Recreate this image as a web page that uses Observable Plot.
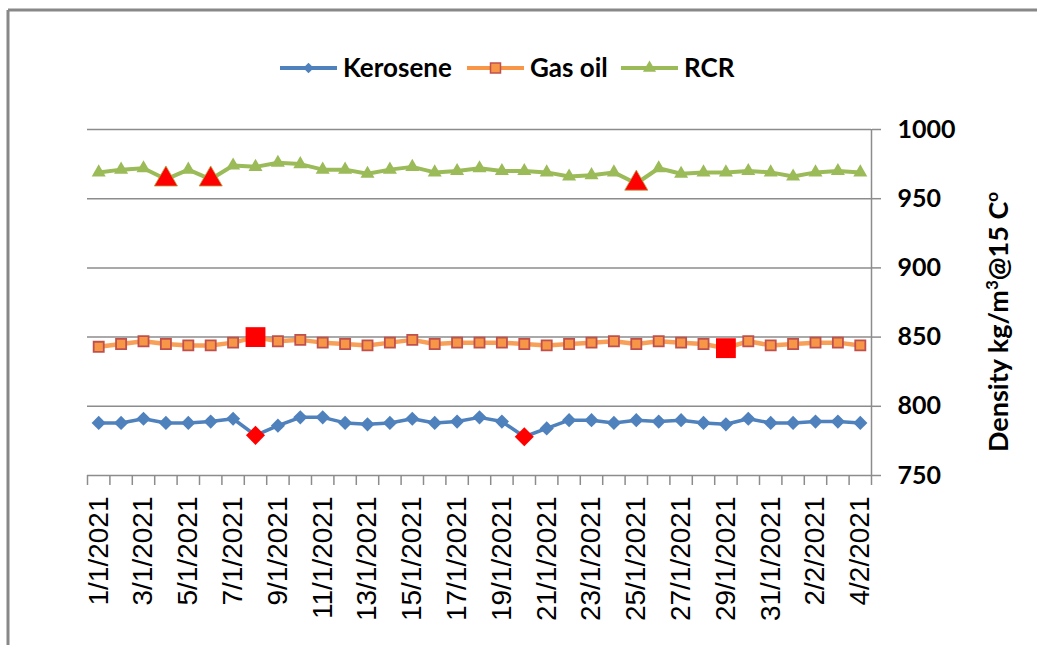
<!DOCTYPE html>
<html>
<head>
<meta charset="utf-8">
<script src="https://cdn.jsdelivr.net/npm/d3@7"></script>
<script src="https://cdn.jsdelivr.net/npm/@observablehq/plot@0.6"></script>
<style>
  html, body { margin: 0; padding: 0; background: #fff; }
  #chart { width: 1037px; height: 645px; overflow: hidden; }
</style>
</head>
<body>
<div id="chart"></div>
<script>
// ---- Data ----
const categories = [
  "1/1/2021","2/1/2021","3/1/2021","4/1/2021","5/1/2021","6/1/2021","7/1/2021","8/1/2021",
  "9/1/2021","10/1/2021","11/1/2021","12/1/2021","13/1/2021","14/1/2021","15/1/2021","16/1/2021",
  "17/1/2021","18/1/2021","19/1/2021","20/1/2021","21/1/2021","22/1/2021","23/1/2021","24/1/2021",
  "25/1/2021","26/1/2021","27/1/2021","28/1/2021","29/1/2021","30/1/2021","31/1/2021","1/2/2021",
  "2/2/2021","3/2/2021","4/2/2021"
];
const kerosene = [788,788,791,788,788,789,791,779,786,792,792,788,787,788,791,788,789,792,789,778,784,790,790,788,790,789,790,788,787,791,788,788,789,789,788];
const gasOil   = [843,845,847,845,844,844,846,850,847,848,846,845,844,846,848,845,846,846,846,845,844,845,846,847,845,847,846,845,842,847,844,845,846,846,844];
const rcr      = [969,971,972,964,971,964,974,973,976,975,971,971,968,971,973,969,970,972,970,970,969,966,967,969,961,972,968,969,969,970,969,966,969,970,969];
const keroseneOutliers = ["8/1/2021","20/1/2021"];
const gasOilOutliers   = ["8/1/2021","29/1/2021"];
const rcrOutliers      = ["4/1/2021","6/1/2021","25/1/2021"];
const yTicks = [750, 800, 850, 900, 950, 1000];
const seriesNames = ["Kerosene", "Gas oil", "RCR"];

// ---- Build tables ----
const toRows = (vals, outliers) => vals.map((v, i) => ({i, date: categories[i], value: v, outlier: outliers.includes(categories[i])}));
const kRows = toRows(kerosene, keroseneOutliers);
const gRows = toRows(gasOil, gasOilOutliers);
const rRows = toRows(rcr, rcrOutliers);
const boundaries = d3.range(categories.length + 1).map(i => i - 0.5);
const labelIdx = d3.range(0, categories.length, 2);

const BLUE = "#4F81BD", ORANGE = "#F79646", ORANGE_EDGE = "#C0504D", GREEN = "#9BBB59", RED = "#FF0000", GRAY = "#8c8c8c";
const BOLD_FONT = "Lato, 'Liberation Sans', sans-serif";
const LABEL_FONT = "'Liberation Sans', Arial, sans-serif";

const chart = Plot.plot({
  width: 1037,
  height: 645,
  marginLeft: 87,
  marginRight: 166,
  marginTop: 129,
  marginBottom: 170,
  style: {background: "#fff", fontFamily: BOLD_FONT, overflow: "visible"},
  x: {domain: [-0.5, categories.length - 0.5], axis: null},
  y: {domain: [750, 1000], axis: null},
  marks: [
    Plot.gridY(yTicks.filter(d => d > 750), {stroke: GRAY, strokeOpacity: 1, strokeWidth: 1.5}),
    Plot.ruleY([750], {stroke: GRAY, strokeWidth: 1.5}),
    Plot.ruleX([categories.length - 0.5], {stroke: GRAY, strokeWidth: 1.5}),
    Plot.axisY({anchor: "right", ticks: yTicks, tickSize: 9, tickPadding: 17, tickFormat: d => String(d),
      stroke: GRAY, strokeWidth: 1.5, fill: "#000", fontSize: 25, fontWeight: "bold", fontFamily: BOLD_FONT, label: null}),
    Plot.axisX({ticks: boundaries, tickSize: 10, tickFormat: () => "", stroke: GRAY, strokeWidth: 1.5, label: null}),
    Plot.axisX({ticks: labelIdx, tickSize: 0, tickPadding: 21, tickRotate: -90, tickFormat: i => categories[i],
      fill: "#000", fontSize: 28, fontFamily: LABEL_FONT, fontWeight: "normal", label: null}),
    // RCR
    Plot.line(rRows, {x: "i", y: "value", stroke: GREEN, strokeWidth: 4}),
    Plot.dot(rRows.filter(d => !d.outlier), {x: "i", y: "value", symbol: "triangle", r: 5.2, fill: GREEN, stroke: "none"}),
    Plot.dot(rRows.filter(d => d.outlier), {x: "i", y: "value", symbol: "triangle", r: 8.6, fill: RED, stroke: "#B8A040", strokeWidth: 0.8}),
    // Gas oil
    Plot.line(gRows, {x: "i", y: "value", stroke: ORANGE, strokeWidth: 4.5, strokeOpacity: 0.9}),
    Plot.dot(gRows.filter(d => !d.outlier), {x: "i", y: "value", symbol: "square", r: 5.7, fill: ORANGE, stroke: ORANGE_EDGE, strokeWidth: 1.8}),
    Plot.dot(gRows.filter(d => d.outlier), {x: "i", y: "value", symbol: "square", r: 11.2, fill: RED, stroke: "none"}),
    // Kerosene
    Plot.line(kRows, {x: "i", y: "value", stroke: BLUE, strokeWidth: 3.5}),
    Plot.dot(kRows.filter(d => !d.outlier), {x: "i", y: "value", symbol: "diamond2", r: 6.4, fill: BLUE, stroke: "none"}),
    Plot.dot(kRows.filter(d => d.outlier), {x: "i", y: "value", symbol: "diamond2", r: 8.6, fill: RED, stroke: "none"})
  ]
});

document.getElementById("chart").appendChild(chart);

// ---- Decorations appended to the same SVG ----
const svg = d3.select(chart);
// ensure the date tick labels use a regular Arial-like font
svg.selectAll("text").filter(function() { return categories.includes(this.textContent); })
  .style("font-family", LABEL_FONT).style("font-weight", "normal").style("font-size", "28px");

// frame (top and left edges visible)
svg.append("line").attr("x1", 8).attr("x2", 1037).attr("y1", 10).attr("y2", 10).attr("stroke", "#888").attr("stroke-width", 3);
svg.append("line").attr("x1", 8).attr("x2", 8).attr("y1", 10).attr("y2", 645).attr("stroke", "#888").attr("stroke-width", 3);

// legend
const legendItems = [
  {name: seriesNames[0], color: BLUE, symbol: d3.symbolDiamond2, size: 70, fill: BLUE, stroke: "none", x: 280},
  {name: seriesNames[1], color: ORANGE, symbol: d3.symbolSquare, size: 100, fill: ORANGE, stroke: ORANGE_EDGE, x: 467},
  {name: seriesNames[2], color: GREEN, symbol: d3.symbolTriangle, size: 75, fill: GREEN, stroke: "none", x: 621}
];
const lg = svg.append("g");
legendItems.forEach(it => {
  const g = lg.append("g").attr("transform", `translate(${it.x},68)`);
  g.append("line").attr("x1", 0).attr("x2", 57).attr("stroke", it.color).attr("stroke-width", 4);
  g.append("path").attr("d", d3.symbol(it.symbol, it.size)()).attr("transform", "translate(28.5,0)")
    .attr("fill", it.fill).attr("stroke", it.stroke).attr("stroke-width", 1.5);
  g.append("text").attr("x", 63).attr("y", 9).attr("text-anchor", "start").attr("font-size", 26).attr("font-weight", "bold")
    .attr("font-family", BOLD_FONT).attr("fill", "#000").text(it.name);
});

// y-axis title
const t = svg.append("text")
  .attr("transform", "translate(1008,322) rotate(-90)")
  .attr("text-anchor", "middle")
  .attr("font-size", 27).attr("font-weight", "bold")
  .attr("font-family", BOLD_FONT).attr("fill", "#000");
t.append("tspan").text("Density kg/m");
t.append("tspan").attr("font-size", 17).attr("dy", -10).text("3");
t.append("tspan").attr("dy", 10).text("@15 C");
t.append("tspan").attr("font-size", 17).attr("dy", -10).text("o");
</script>
</body>
</html>
